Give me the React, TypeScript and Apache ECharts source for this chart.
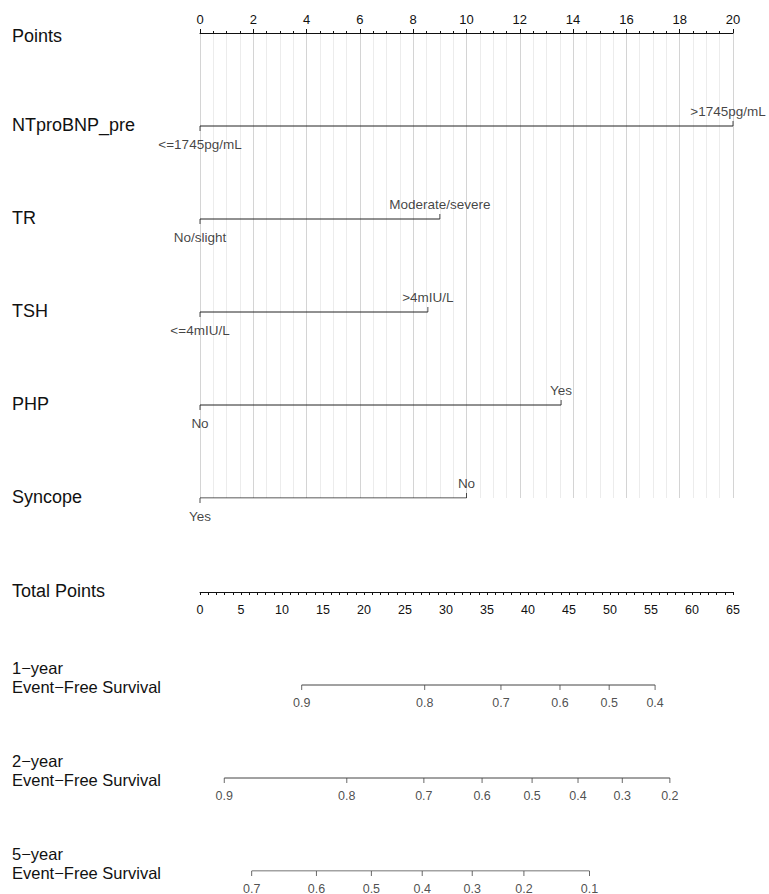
import React, { useEffect, useRef } from "react";
import * as echarts from "echarts";

// ---- Data ----
const pointsMax = 20;
const pointsTicks = [0, 2, 4, 6, 8, 10, 12, 14, 16, 18, 20];
const variableNames = ["NTproBNP_pre", "TR", "TSH", "PHP", "Syncope"];
const lowLevelLabels = ["<=1745pg/mL", "No/slight", "<=4mIU/L", "No", "Yes"];
const highLevelLabels = [">1745pg/mL", "Moderate/severe", ">4mIU/L", "Yes", "No"];
const highLevelPoints = [20, 9.0, 8.55, 13.55, 10.0];

const totalPointsMax = 65;

const survivalRowNames = ["1\u2212year", "2\u2212year", "5\u2212year"];
const surv1yLabels = ["0.9", "0.8", "0.7", "0.6", "0.5", "0.4"];
const surv1yPoints = [12.4, 27.4, 36.7, 43.9, 49.9, 55.5];
const surv2yLabels = ["0.9", "0.8", "0.7", "0.6", "0.5", "0.4", "0.3", "0.2"];
const surv2yPoints = [2.96, 17.9, 27.3, 34.4, 40.5, 46.1, 51.5, 57.3];
const surv5yLabels = ["0.7", "0.6", "0.5", "0.4", "0.3", "0.2", "0.1"];
const surv5yPoints = [6.3, 14.2, 20.9, 27.1, 33.2, 39.5, 47.5];

const FONT = "Liberation Sans, Arial, Helvetica, sans-serif";

export default function App() {
  const ref = useRef<HTMLDivElement>(null);

  useEffect(() => {
    if (!ref.current) return;
    const chart = echarts.init(ref.current, undefined, { renderer: "svg" });

    const LEFT = 200;
    const RIGHT = 36;
    const ROW = 93;
    const TOP = 33;
    const LABEL_FS = 18;

    const series: any[] = [];

    variableNames.forEach((name, i) => {
      const y = i + 1;
      const nearRightEdge = highLevelPoints[i] >= pointsMax;
      series.push({
        type: "line",
        xAxisIndex: 0,
        yAxisIndex: 0,
        data: [[0, y], [highLevelPoints[i], y]],
        symbol: "none",
        lineStyle: { color: "#222", width: 1 },
        silent: true,
      });
      series.push({
        type: "scatter",
        xAxisIndex: 0,
        yAxisIndex: 0,
        data: [[0, y]],
        symbol: "rect",
        symbolSize: [1, 5],
        symbolOffset: [0, 2.5],
        itemStyle: { color: "#222" },
        silent: true,
      });
      series.push({
        type: "scatter",
        xAxisIndex: 0,
        yAxisIndex: 0,
        data: [[highLevelPoints[i], y]],
        symbol: "rect",
        symbolSize: [1, 5],
        symbolOffset: [0, -2.5],
        itemStyle: { color: "#222" },
        silent: true,
      });
      series.push({
        type: "scatter",
        xAxisIndex: 0,
        yAxisIndex: 0,
        data: [[0, y]],
        symbolSize: 0,
        itemStyle: { color: "transparent" },
        label: {
          show: true,
          position: "bottom",
          distance: 11,
          formatter: lowLevelLabels[i],
          color: "#111",
          fontSize: 13.5,
          fontFamily: FONT,
        },
        silent: true,
      });
      series.push({
        type: "scatter",
        xAxisIndex: 0,
        yAxisIndex: 0,
        data: [[highLevelPoints[i], y]],
        symbolSize: 0,
        itemStyle: { color: "transparent" },
        label: {
          show: true,
          position: "top",
          distance: 8,
          offset: nearRightEdge ? [-5, 0] : [0, 0],
          formatter: highLevelLabels[i],
          color: "#111",
          fontSize: 13.5,
          fontFamily: FONT,
        },
        silent: true,
      });
    });

    const survSets = [
      { labels: surv1yLabels, pts: surv1yPoints },
      { labels: surv2yLabels, pts: surv2yPoints },
      { labels: surv5yLabels, pts: surv5yPoints },
    ];
    survSets.forEach((s, i) => {
      const y = i + 1;
      series.push({
        type: "line",
        xAxisIndex: 2,
        yAxisIndex: 2,
        data: [[s.pts[0], y], [s.pts[s.pts.length - 1], y]],
        symbol: "none",
        lineStyle: { color: "#444", width: 1 },
        silent: true,
      });
      series.push({
        type: "scatter",
        xAxisIndex: 2,
        yAxisIndex: 2,
        data: s.pts.map((p, k) => ({ value: [p, y], name: s.labels[k] })),
        symbol: "rect",
        symbolSize: [1, 5],
        symbolOffset: [0, 2.5],
        itemStyle: { color: "#444" },
        silent: true,
      });
      series.push({
        type: "scatter",
        xAxisIndex: 2,
        yAxisIndex: 2,
        data: s.pts.map((p, k) => ({ value: [p, y], name: s.labels[k] })),
        symbolSize: 0,
        itemStyle: { color: "transparent" },
        label: {
          show: true,
          position: "bottom",
          distance: 11,
          formatter: (p: any) => p.name,
          color: "#222",
          fontSize: 12.5,
          fontFamily: FONT,
        },
        silent: true,
      });
    });

    const leftLabels: any[] = [];
    const addLabel = (text: string, yCenter: number, fs = LABEL_FS) =>
      leftLabels.push({
        type: "text",
        left: 12,
        top: yCenter - fs / 2 - 1,
        style: {
          text,
          fontSize: fs,
          fontFamily: FONT,
          fill: "#111",
        },
      });
    addLabel("Points", 37);
    variableNames.forEach((n, i) => addLabel(n, TOP + ROW * (i + 1)));
    addLabel("Total Points", 592);
    survivalRowNames.forEach((n, i) => {
      const y = 592 + ROW * (i + 1);
      addLabel(n, y - 16, 16.5);
      addLabel("Event\u2212Free Survival", y + 3, 16.5);
    });

    const option: any = {
      animation: false,
      backgroundColor: "#fff",
      textStyle: { fontFamily: FONT },
      grid: [
        { left: LEFT, right: RIGHT, top: TOP, height: ROW * 5 },
        { left: LEFT, right: RIGHT, top: 560, height: 32 },
        { left: LEFT, right: RIGHT, top: 592, height: ROW * 3 },
      ],
      xAxis: [
        {
          gridIndex: 0,
          type: "value",
          position: "top",
          min: 0,
          max: pointsMax,
          interval: 2,
          axisLine: { show: true, onZero: false, lineStyle: { color: "#111", width: 1 } },
          axisTick: { show: true, inside: false, length: 4, lineStyle: { color: "#111" } },
          minorTick: { show: true, splitNumber: 4, length: 2, lineStyle: { color: "#111" } },
          axisLabel: {
            show: true,
            margin: 7,
            color: "#111",
            fontSize: 13,
            fontFamily: FONT,
            formatter: (v: number) => (pointsTicks.includes(v) ? String(v) : ""),
          },
          splitLine: { show: true, lineStyle: { color: "#d4d4d4", width: 1 } },
          minorSplitLine: { show: true, lineStyle: { color: "#ececec", width: 1 } },
        },
        {
          gridIndex: 1,
          type: "value",
          position: "bottom",
          min: 0,
          max: totalPointsMax,
          interval: 5,
          axisLine: { show: true, onZero: false, lineStyle: { color: "#111", width: 1 } },
          axisTick: { show: true, inside: false, length: 3, lineStyle: { color: "#111" } },
          minorTick: { show: true, splitNumber: 5, length: 3, lineStyle: { color: "#111" } },
          axisLabel: { show: true, margin: 11, color: "#111", fontSize: 12.5, fontFamily: FONT },
          splitLine: { show: false },
        },
        {
          gridIndex: 2,
          type: "value",
          min: 0,
          max: totalPointsMax,
          show: false,
        },
      ],
      yAxis: [
        { gridIndex: 0, type: "value", min: 0, max: 5, inverse: true, show: false },
        { gridIndex: 1, type: "value", min: 0, max: 1, show: false },
        { gridIndex: 2, type: "value", min: 0, max: 3, inverse: true, show: false },
      ],
      graphic: leftLabels,
      series,
    };

    chart.setOption(option);
    return () => chart.dispose();
  }, []);

  return (
    <div
      ref={ref}
      style={{ position: "fixed", left: 0, top: 0, width: 769, height: 894, background: "#fff" }}
    />
  );
}
